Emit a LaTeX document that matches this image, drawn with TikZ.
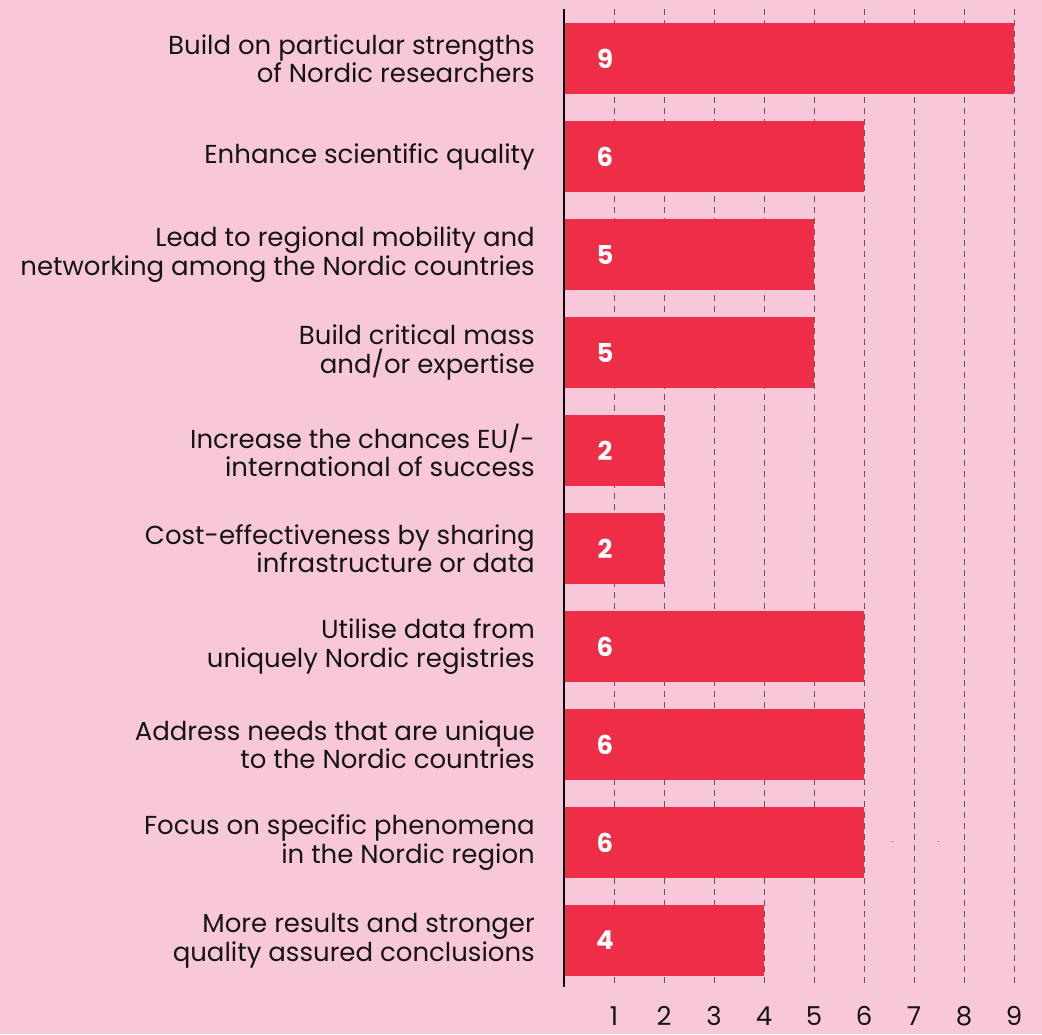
\documentclass[tikz,border=0pt]{standalone}
\usepackage{fontspec}
\setmainfont{Poppins}
\definecolor{bg}{HTML}{F8C8DA}
\definecolor{barred}{HTML}{EE2D46}
\definecolor{gridc}{HTML}{5A5A5A}
\definecolor{txt}{HTML}{151515}
\begin{document}
\begin{tikzpicture}[x=1pt,y=-1pt,
  lab/.style={anchor=east,align=right,text=txt,font=\fontsize{26}{28.5}\selectfont,inner sep=0pt},
  val/.style={text=white,font=\fontsize{26}{28}\selectfont\bfseries,inner sep=0pt},
  tick/.style={text=txt,font=\fontsize{26}{28}\selectfont,inner sep=0pt,anchor=base},
  gridl/.style={gridc,line width=1pt,dash pattern=on 6pt off 5pt},
  barf/.style={fill=barred,draw=none}]
\fill[bg] (0,0) rectangle (1042,1034);
\useasboundingbox (0,0) rectangle (1042,1034);
% grid
\foreach \k in {1,...,9}{
  \coordinate (gt\k) at ({564+50*\k},9);
  \coordinate (gb\k) at ({564+50*\k},987);
  \draw[gridl] (gt\k) -- (gb\k);
  \node[tick] (t\k) at ({564+50*\k},1025) {\k};
}
% bars
\foreach \i/\v/\t in {
 0/9/{Build on particular strengths\\of Nordic researchers},
 1/6/{Enhance scientific quality},
 2/5/{Lead to regional mobility and\\networking among the Nordic countries},
 3/5/{Build critical mass\\and/or expertise},
 4/2/{Increase the chances EU/-\\international of success},
 5/2/{Cost-effectiveness by sharing\\infrastructure or data},
 6/6/{Utilise data from\\uniquely Nordic registries},
 7/6/{Address needs that are unique\\to the Nordic countries},
 8/6/{Focus on specific phenomena\\in the Nordic region},
 9/4/{More results and stronger\\quality assured conclusions}}{
  \fill[barf] (564,{23+98*\i}) rectangle ({564+50*\v},{94+98*\i});
  \node[val] (v\i) at (605,{58.5+98*\i}) {\v};
  \node[lab] (l\i) at (535,{58.5+98*\i}) {\t};
}
% axis
\coordinate (at) at (564,9);
\coordinate (ab) at (564,987);
\draw[black,line width=2.5pt] (at) -- (ab);
% stray dots
\fill[gridc] (891.5,840.5) rectangle (892.5,841.5);
\fill[gridc] (937.5,840.5) rectangle (938.5,841.5);
\end{tikzpicture}
\end{document}
